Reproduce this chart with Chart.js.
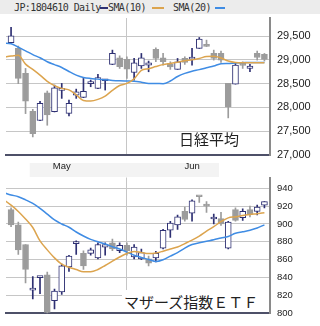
<!DOCTYPE html>
<html>
<head>
<meta charset="utf-8">
<script src="https://cdn.jsdelivr.net/npm/chart.js@4"></script>
<style>
body { margin: 0; width: 320px; height: 326px; position: relative; overflow: hidden; background: #fff; }
canvas { position: absolute; left: 0; }
#topChart { top: 0; }
#botChart { top: 160px; }
.hdr { position: absolute; left: 0; top: 0; width: 320px; height: 14px; background: #ececec;
       font: 10px "DejaVu Sans Mono", monospace; letter-spacing: -0.6px; color: #333; }
.hdr span { position: absolute; top: 2px; line-height: 12px; white-space: pre; }
.hdr i { position: absolute; top: 7px; height: 2px; }
.tag { position: absolute; font: 15px "Noto Sans CJK JP", sans-serif; line-height: 15px; color: #222; white-space: nowrap; }
</style>
</head>
<body>
<canvas id="topChart" width="320" height="182"></canvas>
<canvas id="botChart" width="320" height="166"></canvas>

<div class="hdr">
  <span style="left:14px">JP:1804610 Daily</span><i style="left:100px;width:8px;background:#2e3073"></i>
  <span style="left:108px">SMA(10)</span><i style="left:152px;width:12px;background:#dca44e"></i>
  <span style="left:173px">SMA(20)</span><i style="left:215px;width:10px;background:#3f8ce4"></i>
</div>
<div class="tag" style="left:179px;top:131px">日経平均</div>
<div class="tag" style="left:122px;top:290px;width:147px;height:22px;background:#fff;padding:4px 0 0 2px;box-sizing:border-box">マザーズ指数ＥＴＦ</div>

<script>
// months on the x axis (candle index)
const monthNames = ['May', 'Jun'];
const monthLabelAt = [7, 25];
const monthStart = 16;

// Nikkei 225 daily candles
const nkOpen  = [29360, 29240, 28715, 27920, 27725, 28305, 27910, 28360, 27875, 28260, 28210, 28500, 28400, 28560, 28905, 29045, 29010, 28735, 28875, 28890, 29220, 29045, 28905, 28800, 29030, 29015, 29240, 29290, 29135, 29135, 28505, 28490, 28890, 28820, 29135, 29115];
const nkHigh  = [29685, 29290, 28820, 27960, 28130, 28345, 28470, 28505, 28155, 28385, 28610, 28575, 28695, 28575, 29205, 29085, 29065, 29030, 29135, 28975, 29255, 29135, 28960, 29030, 29065, 29240, 29470, 29415, 29205, 29185, 28505, 28940, 28960, 28905, 29185, 29135];
const nkLow   = [29350, 28500, 27870, 27380, 27720, 27625, 27905, 28190, 27820, 28190, 28205, 28435, 28395, 28365, 28900, 28820, 28610, 28575, 28820, 28750, 28960, 28890, 28800, 28800, 28905, 28890, 29240, 29280, 28995, 28945, 27780, 28490, 28820, 28750, 28995, 28975];
const nkClose = [29505, 28610, 28130, 27450, 28085, 27840, 28410, 28365, 28085, 28330, 28340, 28540, 28630, 28565, 29135, 28855, 28805, 28940, 29045, 28940, 29030, 28960, 28850, 28960, 28945, 29020, 29435, 29285, 29030, 28995, 28010, 28890, 28885, 28870, 29050, 29010];
// moving averages start one day before the first visible candle
const nkSma10 = [29055, 29080, 29095, 28910, 28800, 28680, 28550, 28460, 28400, 28370, 28265, 28146, 28135, 28170, 28240, 28360, 28460, 28505, 28600, 28780, 28815, 28860, 28900, 28925, 28950, 28980, 29000, 29030, 29070, 29075, 29040, 28975, 28945, 28940, 28940, 28940, 28940];
const nkSma20 = [29350, 29340, 29265, 29190, 29110, 29044, 28960, 28900, 28840, 28755, 28680, 28630, 28608, 28595, 28580, 28568, 28560, 28555, 28550, 28530, 28504, 28504, 28500, 28555, 28650, 28715, 28760, 28795, 28835, 28870, 28920, 28925, 28935, 28940, 28945, 28945, 28945];
const nkTicks = [27000, 27500, 28000, 28500, 29000, 29500];

// Mothers index ETF daily candles
const mzOpen  = [916, 899, 877, 826, 840, 843, 814, 824, 852, 878, 867, 867, 862, 874, 879, 870, 876, 863, 861, 861, 862, 873, 893, 899, 914, 912, 931, 920.5, 905.5, 906, 873, 916, 907, 916, 914, 921];
const mzHigh  = [918, 902, 877, 841, 841, 846, 827, 855, 865, 881, 870, 873, 879, 879, 883, 879, 879, 877, 872, 864, 869.5, 894, 903, 910, 919, 927, 931, 925, 911, 913, 903, 918, 917, 920, 921, 925];
const mzLow   = [897, 866, 834, 816, 822, 799, 805, 821, 847, 866, 849, 865, 861, 865, 870, 868, 865, 861, 860, 853, 857.5, 872, 885, 894, 903, 903, 924, 913, 900, 898.5, 872, 903, 904, 908, 910, 918];
const mzClose = [899, 871, 849, 827, 840.5, 801, 825, 853, 864, 878.5, 853, 871, 877, 877, 872, 876, 870, 874, 868, 856, 867, 893, 901, 908, 905, 926, 930.5, 920, 906, 900, 902, 904, 914, 911, 919, 925];
const mzSma10 = [927, 921, 914, 905.5, 896, 881, 871, 862, 855, 851.5, 849, 846.5, 846.5, 849, 853.5, 858.5, 863, 867, 869.2, 868, 866.8, 867.4, 869.5, 872, 874.2, 878, 882, 886.5, 892, 897, 902.5, 906.8, 908, 909.5, 910.6, 911.5, 912.5];
const mzSma20 = [935, 932.5, 930.5, 927, 923, 917.5, 911, 904.5, 900, 896.3, 891, 886.5, 882.7, 880, 877.5, 874.5, 872, 868.5, 865, 862.5, 860.3, 858, 860, 864, 868, 873, 877, 879, 880.7, 882.3, 884.3, 886, 889.5, 891.2, 893, 895.5, 899];
const mzTicks = [800, 820, 840, 860, 880, 900, 920, 940];

const NAVY = '#2e3073', GRAY = '#9c9c9c', ORANGE = '#dca44e', BLUE = '#3f8ce4', GRID = '#c6c6c6';

Chart.defaults.font.family = '"Liberation Sans", Arial, sans-serif';
Chart.defaults.color = '#222';
Chart.defaults.animation = false;

// wick + body bars for each candle
function candleSets(open, high, low, close) {
    const up = open.map((o, i) => close[i] >= o);
    return [
        {
            type: 'bar', order: 4, grouped: false, barThickness: 1,
            data: open.map((o, i) => ({ x: i, y: [low[i], high[i]] })),
            backgroundColor: up.map(u => u ? NAVY : GRAY)
        },
        {
            type: 'bar', order: 3, grouped: false, barThickness: 6, minBarLength: 2,
            borderWidth: 1, borderSkipped: false,
            data: open.map((o, i) => ({ x: i, y: [o, close[i]] })),
            backgroundColor: up.map(u => u ? '#fff' : GRAY),
            borderColor: up.map(u => u ? NAVY : GRAY)
        }
    ];
}

function smaSet(vals, color, order) {
    return {
        type: 'line', order: order,
        data: vals.map((v, i) => ({ x: i - 1, y: v })),
        borderColor: color, borderWidth: 1.5, pointRadius: 0,
        cubicInterpolationMode: 'monotone', fill: false
    };
}

// faint strip behind the month labels
const labelStrip = {
    id: 'labelStrip',
    beforeDraw(chart) {
        const x = chart.scales.x, ctx = chart.ctx;
        const l = x.getPixelForValue(monthLabelAt[0]) - 32;
        const r = x.getPixelForValue(monthLabelAt[1]) + 27;
        ctx.save();
        ctx.fillStyle = '#f3f3f3';
        ctx.fillRect(l, x.top + 8, r - l, 14);
        ctx.restore();
    }
};

function makePanel(id, o, h, l, c, s10, s20, yMin, yMax, yTicks, fontSize, topPad, xHeight, showMonths) {
    return new Chart(document.getElementById(id), {
        type: 'bar',
        data: {
            datasets: [
                ...candleSets(o, h, l, c),
                smaSet(s20, BLUE, 2),
                smaSet(s10, ORANGE, 1)
            ]
        },
        options: {
            responsive: false,
            layout: { padding: { left: 6, top: topPad, right: 0, bottom: 0 } },
            plugins: { legend: { display: false }, tooltip: { enabled: false } },
            scales: {
                x: {
                    type: 'linear', min: -0.7, max: 35.77, offset: false,
                    afterBuildTicks: s => {
                        s.ticks = [{ value: monthLabelAt[0] }, { value: monthStart }, { value: monthLabelAt[1] }];
                    },
                    ticks: {
                        display: showMonths, autoSkip: false, maxRotation: 0, padding: 6,
                        font: { size: 9.5 },
                        callback: v => {
                            const k = monthLabelAt.indexOf(v);
                            return k >= 0 ? monthNames[k] : '';
                        }
                    },
                    grid: {
                        drawTicks: false, offset: false,
                        color: ctx => ctx.tick && ctx.tick.value === monthStart ? GRID : 'rgba(0,0,0,0)'
                    },
                    border: { color: '#4d5068', width: 2 },
                    afterFit: s => { s.height = xHeight; }
                },
                y: {
                    position: 'right', min: yMin, max: yMax,
                    afterBuildTicks: s => { s.ticks = yTicks.map(v => ({ value: v })); },
                    ticks: {
                        padding: 7, font: { size: fontSize },
                        callback: v => v.toLocaleString('en-US')
                    },
                    grid: {
                        drawTicks: false,
                        color: ctx => ctx.tick && ctx.tick.value === yMin ? 'rgba(0,0,0,0)' : GRID
                    },
                    border: { color: '#8a8a8a', width: 2 },
                    afterFit: s => { s.width = 50; }
                }
            }
        },
        plugins: showMonths ? [labelStrip] : []
    });
}

makePanel('topChart', nkOpen, nkHigh, nkLow, nkClose, nkSma10, nkSma20, 27000, 29880, nkTicks, 11, 18, 27, true);
makePanel('botChart', mzOpen, mzHigh, mzLow, mzClose, mzSma10, mzSma20, 800, 952, mzTicks, 9.5, 17.5, 10, false);
</script>
</body>
</html>
